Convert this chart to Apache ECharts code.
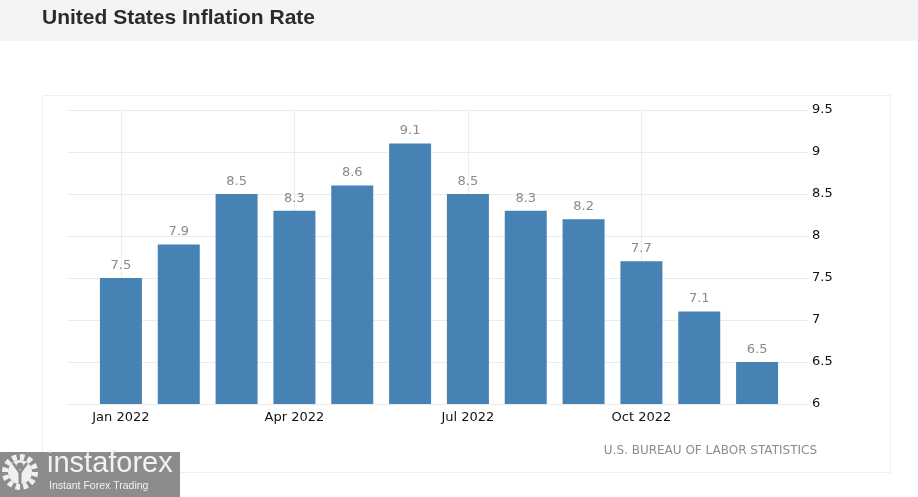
<!DOCTYPE html>
<html><head><meta charset="utf-8">
<script src="https://cdn.jsdelivr.net/npm/echarts@6/dist/echarts.min.js"></script>
<style>html,body{margin:0;padding:0;background:#fff}#c{width:918px;height:497px}</style>
</head><body><div id="c"></div>
<script>
const categories = ['Jan 2022','Feb 2022','Mar 2022','Apr 2022','May 2022','Jun 2022','Jul 2022','Aug 2022','Sep 2022','Oct 2022','Nov 2022','Dec 2022'];
const values = [7.5, 7.9, 8.5, 8.3, 8.6, 9.1, 8.5, 8.3, 8.2, 7.7, 7.1, 6.5];
const verticalGridAt = ['Jan 2022','Apr 2022','Jul 2022','Oct 2022'];
const title = 'United States Inflation Rate';
const source = 'U.S. BUREAU OF LABOR STATISTICS';

const chart = echarts.init(document.getElementById('c'), null, {renderer:'canvas'});
const TOP = 110, BOTTOM = 497 - 404;
const GRID = '#ececec';
chart.setOption({
  animation: false,
  backgroundColor: '#fff',
  graphic: [
    {type:'rect', shape:{x:0,y:0,width:918,height:41}, style:{fill:'#f4f4f4'}, z:-10},
    {type:'text', left:42, top:8, style:{text:title, font:'bold 21px "Liberation Sans", Arial, sans-serif', fill:'#2b2b2b'}},
    {type:'rect', shape:{x:42.5,y:95.5,width:848,height:377}, style:{fill:'none', stroke:'#efefef', lineWidth:1}, z:-5},
    {type:'text', right:101, top:445, style:{text:source, font:'12px "DejaVu Sans", sans-serif', fill:'#8c8c8c', align:'right'}},
    {type:'rect', shape:{x:0,y:452,width:180,height:45}, style:{fill:'#8c8c8c'}, z:10},
    {type:'circle', shape:{cx:20,cy:472,r:15}, style:{fill:'none', stroke:'#f0f0f0', lineWidth:6, lineDash:[4.5,3.3]}, z:11},
    {type:'circle', shape:{cx:20,cy:472,r:12}, style:{fill:'#f0f0f0'}, z:11},
    {type:'circle', shape:{cx:20,cy:466,r:3.5}, style:{fill:'#8c8c8c'}, z:12},
    {type:'polyline', shape:{points:[[13,463],[20,473],[27,463]]}, style:{stroke:'#8c8c8c', lineWidth:2.5, fill:'none'}, z:12},
    {type:'line', shape:{x1:20,y1:472,x2:20,y2:484}, style:{stroke:'#8c8c8c', lineWidth:3}, z:12},
    {type:'text', left:47, top:449, style:{text:'instaforex', font:'29px "Liberation Sans", Arial, sans-serif', fill:'#f2f2f2'}, z:11},
    {type:'text', left:49, top:481, style:{text:'Instant Forex Trading', font:'10.5px "Liberation Sans", Arial, sans-serif', fill:'#f2f2f2'}, z:11}
  ],
  grid: [
    {left:67, right:918-808, top:TOP, bottom:BOTTOM},
    {left:92, right:918-786, top:TOP, bottom:BOTTOM}
  ],
  xAxis: [
    {gridIndex:0, type:'value', min:0, max:1, show:false},
    {gridIndex:1, type:'category', data:categories,
      axisLine:{show:false}, axisTick:{show:false},
      axisLabel:{interval:(i)=>i%3===0, color:'#111', fontSize:13, fontFamily:'DejaVu Sans', margin:7},
      splitLine:{show:false}
    }
  ],
  yAxis: [
    {gridIndex:0, type:'value', position:'right', min:6, max:9.5, interval:0.5,
      axisLine:{show:false}, axisTick:{show:false},
      axisLabel:{color:'#111', fontSize:13, fontFamily:'DejaVu Sans', margin:4},
      splitLine:{lineStyle:{color:GRID}}},
    {gridIndex:1, type:'value', min:6, max:9.5, show:false, splitLine:{show:false}}
  ],
  series: [
    {
      type:'line', xAxisIndex:1, yAxisIndex:1, data:[], z:0, silent:true,
      markLine:{silent:true, z:0, symbol:'none', label:{show:false},
        lineStyle:{color:GRID, type:'solid', width:1},
        data: verticalGridAt.map(c=>({xAxis:c}))}
    },
    {
      type:'bar', xAxisIndex:1, yAxisIndex:1, data:values, barWidth:42, z:3,
      itemStyle:{color:'#4682b4'},
      label:{show:true, position:'top', distance:6, color:'#8a8a8a', fontSize:13, fontFamily:'DejaVu Sans'}
    }
  ]
});
</script></body></html>
